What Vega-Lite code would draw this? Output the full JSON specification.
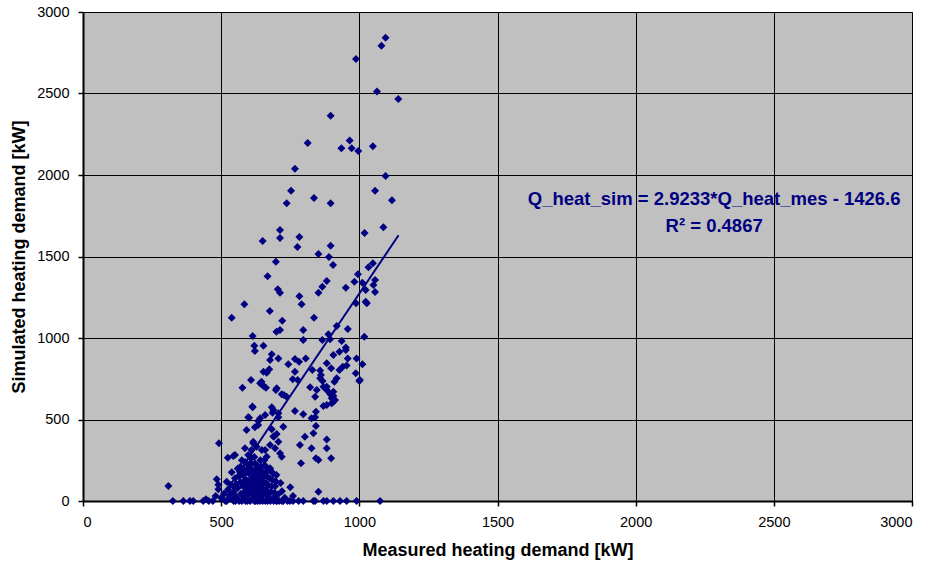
{
  "$schema": "https://vega.github.io/schema/vega-lite/v6.json",
  "width": 829,
  "height": 489,
  "autosize": {"type": "none"},
  "padding": {"left": 83, "top": 12, "right": 23, "bottom": 64},
  "background": "white",
  "config": {
    "view": {"fill": "#C0C0C0", "stroke": "#808080", "strokeWidth": 1},
    "axis": {
      "labelFont": "Liberation Sans",
      "titleFont": "Liberation Sans",
      "labelFontSize": 14.5,
      "titleFontSize": 18,
      "titleFontWeight": "bold",
      "labelColor": "black",
      "titleColor": "black",
      "domainColor": "black",
      "domainWidth": 2,
      "tickColor": "black",
      "tickSize": 5,
      "tickWidth": 1.5,
      "gridColor": "black",
      "gridWidth": 1,
      "gridOpacity": 1
    }
  },
  "datasets": {
    "points": [
      {"measured":1095,"simulated":2842},{"measured":1080,"simulated":2793},{"measured":988,"simulated":2712},{"measured":1064,"simulated":2513},{"measured":1141,"simulated":2466},{"measured":896,"simulated":2364},{"measured":813,"simulated":2196},{"measured":965,"simulated":2211},{"measured":935,"simulated":2164},{"measured":972,"simulated":2164},{"measured":996,"simulated":2147},{"measured":1049,"simulated":2176},{"measured":767,"simulated":2039},{"measured":1095,"simulated":1994},{"measured":753,"simulated":1904},{"measured":1057,"simulated":1904},{"measured":737,"simulated":1826},{"measured":836,"simulated":1859},{"measured":896,"simulated":1826},{"measured":1118,"simulated":1845},{"measured":713,"simulated":1663},{"measured":713,"simulated":1614},{"measured":783,"simulated":1620},{"measured":776,"simulated":1558},{"measured":896,"simulated":1566},{"measured":852,"simulated":1515},{"measured":890,"simulated":1497},{"measured":1019,"simulated":1644},{"measured":1087,"simulated":1679},{"measured":650,"simulated":1595},
      {"measured":905,"simulated":1448},{"measured":698,"simulated":1468},{"measured":668,"simulated":1379},{"measured":705,"simulated":1299},{"measured":713,"simulated":1278},{"measured":783,"simulated":1256},{"measured":791,"simulated":1207},{"measured":852,"simulated":1278},{"measured":866,"simulated":1315},{"measured":882,"simulated":1350},{"measured":995,"simulated":1391},{"measured":1033,"simulated":1434},{"measured":1049,"simulated":1458},{"measured":982,"simulated":1345},{"measured":1011,"simulated":1339},{"measured":1057,"simulated":1356},{"measured":1051,"simulated":1325},{"measured":951,"simulated":1309},{"measured":1023,"simulated":1294},{"measured":1057,"simulated":1282},{"measured":988,"simulated":1213},{"measured":1023,"simulated":1223},{"measured":1027,"simulated":1213},{"measured":584,"simulated":1207},{"measured":538,"simulated":1125},{"measured":676,"simulated":1166},{"measured":721,"simulated":1106},{"measured":836,"simulated":1125},{"measured":700,"simulated":1039},{"measured":713,"simulated":1049},{"measured":797,"simulated":1049},{"measured":614,"simulated":1012},{"measured":620,"simulated":953},{"measured":653,"simulated":953},{"measured":622,"simulated":920},{"measured":797,"simulated":988},{"measured":866,"simulated":988},{"measured":894,"simulated":992},{"measured":888,"simulated":1023},{"measured":918,"simulated":1074},{"measured":958,"simulated":1055},{"measured":1018,"simulated":1008},{"measured":936,"simulated":982},{"measured":951,"simulated":941},{"measured":683,"simulated":900},{"measured":677,"simulated":865},{"measured":707,"simulated":875},{"measured":743,"simulated":839},{"measured":767,"simulated":871},{"measured":782,"simulated":855},{"measured":806,"simulated":875},{"measured":767,"simulated":793},{"measured":830,"simulated":804},{"measured":858,"simulated":800},{"measured":861,"simulated":773},{"measured":882,"simulated":845},{"measured":898,"simulated":814},{"measured":906,"simulated":896},{"measured":928,"simulated":916},{"measured":951,"simulated":926},{"measured":928,"simulated":804},{"measured":940,"simulated":824},{"measured":954,"simulated":832},{"measured":958,"simulated":875},{"measured":990,"simulated":875},{"measured":1011,"simulated":839},{"measured":987,"simulated":783},{"measured":1002,"simulated":742},{"measured":653,"simulated":793},{"measured":665,"simulated":787},{"measured":674,"simulated":808},{"measured":608,"simulated":742},{"measured":641,"simulated":722},{"measured":653,"simulated":706},{"measured":759,"simulated":747},{"measured":777,"simulated":742},{"measured":858,"simulated":753},{"measured":867,"simulated":736},{"measured":577,"simulated":695},{"measured":701,"simulated":691},{"measured":822,"simulated":698},{"measured":882,"simulated":701},
      {"measured":646,"simulated":731},{"measured":648,"simulated":715},{"measured":662,"simulated":695},{"measured":698,"simulated":681},{"measured":719,"simulated":655},{"measured":727,"simulated":650},{"measured":737,"simulated":640},{"measured":614,"simulated":575},{"measured":683,"simulated":575},{"measured":689,"simulated":558},{"measured":686,"simulated":542},{"measured":767,"simulated":552},{"measured":797,"simulated":532},{"measured":598,"simulated":514},{"measured":641,"simulated":507},{"measured":659,"simulated":528},{"measured":707,"simulated":514},
      {"measured":918,"simulated":753},{"measured":910,"simulated":732},{"measured":846,"simulated":681},{"measured":870,"simulated":701},{"measured":882,"simulated":681},{"measured":906,"simulated":671},{"measured":894,"simulated":656},{"measured":906,"simulated":644},{"measured":840,"simulated":640},{"measured":900,"simulated":630},{"measured":912,"simulated":620},{"measured":1000,"simulated":736},
      {"measured":900,"simulated":599},{"measured":882,"simulated":589},{"measured":870,"simulated":583},{"measured":906,"simulated":609},{"measured":827,"simulated":507},{"measured":840,"simulated":514},{"measured":843,"simulated":548},{"measured":843,"simulated":460},{"measured":803,"simulated":394},{"measured":834,"simulated":415},{"measured":882,"simulated":378},{"measured":882,"simulated":323},{"measured":785,"simulated":344},{"measured":827,"simulated":323},{"measured":843,"simulated":262},{"measured":852,"simulated":252},{"measured":898,"simulated":262},{"measured":789,"simulated":231},{"measured":852,"simulated":57},
      {"measured":797,"simulated":0},{"measured":834,"simulated":0},{"measured":882,"simulated":0},{"measured":906,"simulated":0},{"measured":954,"simulated":0},{"measured":990,"simulated":0},{"measured":1075,"simulated":0},
      {"measured":592,"simulated":436},{"measured":634,"simulated":466},{"measured":622,"simulated":452},{"measured":725,"simulated":456},{"measured":689,"simulated":395},{"measured":707,"simulated":364},{"measured":677,"simulated":344},{"measured":695,"simulated":323},{"measured":616,"simulated":354},{"measured":628,"simulated":333},{"measured":659,"simulated":313},{"measured":598,"simulated":282},{"measured":550,"simulated":282},{"measured":586,"simulated":323},{"measured":713,"simulated":293},{"measured":719,"simulated":272},{"measured":677,"simulated":201},
      {"measured":701,"simulated":0},{"measured":725,"simulated":0},{"measured":749,"simulated":0},
      {"measured":492,"simulated":354},{"measured":524,"simulated":266},{"measured":544,"simulated":276},{"measured":538,"simulated":176},{"measured":484,"simulated":133},{"measured":520,"simulated":118},{"measured":490,"simulated":72},{"measured":309,"simulated":92},
      {"measured":325,"simulated":0},{"measured":363,"simulated":0},{"measured":387,"simulated":0},{"measured":399,"simulated":0},{"measured":435,"simulated":0},{"measured":568,"simulated":180},{"measured":580,"simulated":160},
      {"measured":613,"simulated":579},{"measured":601,"simulated":511},{"measured":634,"simulated":491},{"measured":707,"simulated":538},{"measured":683,"simulated":440},{"measured":701,"simulated":411},{"measured":691,"simulated":395},{"measured":616,"simulated":364},{"measured":610,"simulated":313},{"measured":647,"simulated":313},{"measured":665,"simulated":272},{"measured":677,"simulated":190},{"measured":641,"simulated":190},
      {"measured":500,"simulated":20},{"measured":510,"simulated":45},{"measured":520,"simulated":0},{"measured":525,"simulated":70},{"measured":530,"simulated":30},{"measured":535,"simulated":100},{"measured":540,"simulated":10},{"measured":545,"simulated":55},{"measured":550,"simulated":140},{"measured":555,"simulated":25},{"measured":560,"simulated":80},{"measured":560,"simulated":200},{"measured":565,"simulated":0},{"measured":570,"simulated":115},{"measured":572,"simulated":45},{"measured":575,"simulated":250},{"measured":578,"simulated":160},{"measured":580,"simulated":90},{"measured":582,"simulated":20},{"measured":585,"simulated":190},{"measured":588,"simulated":60},{"measured":590,"simulated":130},{"measured":592,"simulated":230},{"measured":595,"simulated":0},{"measured":597,"simulated":100},{"measured":600,"simulated":170},{"measured":600,"simulated":40},{"measured":603,"simulated":210},{"measured":605,"simulated":75},{"measured":608,"simulated":260},{"measured":610,"simulated":140},{"measured":612,"simulated":10},{"measured":615,"simulated":185},{"measured":618,"simulated":60},{"measured":620,"simulated":110},{"measured":622,"simulated":230},{"measured":625,"simulated":30},{"measured":628,"simulated":160},{"measured":630,"simulated":90},{"measured":632,"simulated":0},{"measured":635,"simulated":200},{"measured":637,"simulated":50},{"measured":640,"simulated":130},{"measured":642,"simulated":250},{"measured":645,"simulated":15},{"measured":648,"simulated":80},{"measured":650,"simulated":175},{"measured":652,"simulated":40},{"measured":655,"simulated":110},{"measured":658,"simulated":220},{"measured":660,"simulated":0},{"measured":662,"simulated":65},{"measured":665,"simulated":150},{"measured":668,"simulated":30},{"measured":670,"simulated":95},{"measured":675,"simulated":190},{"measured":678,"simulated":0},{"measured":680,"simulated":55},{"measured":685,"simulated":130},{"measured":690,"simulated":20},{"measured":695,"simulated":90},{"measured":700,"simulated":160},{"measured":705,"simulated":40},{"measured":710,"simulated":0},{"measured":715,"simulated":110},{"measured":720,"simulated":60},{"measured":730,"simulated":20},{"measured":740,"simulated":0},{"measured":750,"simulated":85},{"measured":760,"simulated":30},{"measured":470,"simulated":0},{"measured":480,"simulated":30},{"measured":455,"simulated":0},{"measured":445,"simulated":10},{"measured":490,"simulated":100},{"measured":515,"simulated":0},{"measured":545,"simulated":0},{"measured":575,"simulated":0},{"measured":605,"simulated":0},{"measured":620,"simulated":0},{"measured":650,"simulated":0},{"measured":690,"simulated":0},{"measured":760,"simulated":0},{"measured":780,"simulated":0},{"measured":840,"simulated":0},{"measured":870,"simulated":0},{"measured":930,"simulated":0},
      {"measured":555,"simulated":105},{"measured":565,"simulated":150},{"measured":570,"simulated":210},{"measured":583,"simulated":120},{"measured":587,"simulated":240},{"measured":593,"simulated":70},{"measured":598,"simulated":200},{"measured":602,"simulated":120},{"measured":607,"simulated":230},{"measured":610,"simulated":50},{"measured":613,"simulated":95},{"measured":617,"simulated":150},{"measured":620,"simulated":270},{"measured":623,"simulated":190},{"measured":626,"simulated":120},{"measured":630,"simulated":220},{"measured":633,"simulated":70},{"measured":636,"simulated":160},{"measured":639,"simulated":100},{"measured":643,"simulated":30},{"measured":646,"simulated":210},{"measured":649,"simulated":140},{"measured":653,"simulated":60},{"measured":656,"simulated":250},{"measured":659,"simulated":170},{"measured":663,"simulated":110},{"measured":667,"simulated":200},{"measured":672,"simulated":50},{"measured":676,"simulated":140},{"measured":682,"simulated":90},{"measured":688,"simulated":170},{"measured":693,"simulated":50},{"measured":698,"simulated":120},{"measured":535,"simulated":40},{"measured":548,"simulated":85},{"measured":552,"simulated":0},{"measured":585,"simulated":35},{"measured":588,"simulated":0},{"measured":625,"simulated":0},{"measured":640,"simulated":0},{"measured":668,"simulated":0},{"measured":700,"simulated":0},{"measured":720,"simulated":0}
    ],
    "trend": [
      {"measured": 494, "simulated": 0},
      {"measured": 1142, "simulated": 1630}
    ],
    "labels": [
      {"measured": 2284, "simulated": 1853, "text": "Q_heat_sim = 2.9233*Q_heat_mes - 1426.6"},
      {"measured": 2284, "simulated": 1687, "text": "R² = 0.4867"}
    ]
  },
  "layer": [
    {
      "data": {"name": "points"},
      "mark": {"type": "point", "shape": "diamond", "filled": true, "color": "#000080", "size": 64, "opacity": 1, "strokeWidth": 0},
      "encoding": {
        "x": {
          "field": "measured", "type": "quantitative",
          "scale": {"domain": [0, 3000], "nice": false, "zero": false},
          "axis": {"values": [0, 500, 1000, 1500, 2000, 2500, 3000], "title": "Measured heating demand [kW]", "labelPadding": 9, "titlePadding": 13, "format": "d"}
        },
        "y": {
          "field": "simulated", "type": "quantitative",
          "scale": {"domain": [0, 3000], "nice": false, "zero": false},
          "axis": {"values": [0, 500, 1000, 1500, 2000, 2500, 3000], "title": "Simulated heating demand [kW]", "labelPadding": 9, "titlePadding": 8, "format": "d"}
        }
      }
    },
    {
      "data": {"name": "trend"},
      "mark": {"type": "line", "color": "#000080", "strokeWidth": 2},
      "encoding": {
        "x": {"field": "measured", "type": "quantitative"},
        "y": {"field": "simulated", "type": "quantitative"}
      }
    },
    {
      "data": {"name": "labels"},
      "mark": {"type": "text", "font": "Liberation Sans", "fontWeight": "bold", "fontSize": 18.5, "color": "#000080", "align": "center", "baseline": "middle"},
      "encoding": {
        "x": {"field": "measured", "type": "quantitative"},
        "y": {"field": "simulated", "type": "quantitative"},
        "text": {"field": "text"}
      }
    }
  ]
}
